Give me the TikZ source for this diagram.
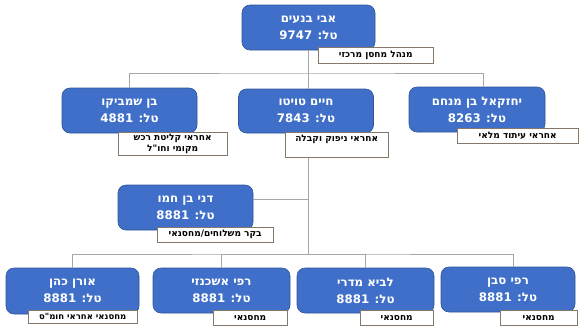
\documentclass[tikz,border=0pt]{standalone}
\usepackage{fontspec}
\setmainfont{Liberation Sans}
\newfontfamily\hebfont[Script=Hebrew]{DejaVu Sans}
\usetikzlibrary{shadows}
\TeXXeTstate=1
\definecolor{box-blue}{HTML}{3F6FC8}
\definecolor{box-edge}{HTML}{2F5597}
\definecolor{note-edge}{HTML}{857868}
\definecolor{link-gray}{HTML}{A6A6A6}
\newcommand{\rtl}[1]{\beginR #1\endR}

\tikzset{
  person/.style={draw=box-edge, fill=box-blue, rounded corners=8pt, text=white,
    align=center, font=\hebfont\fontsize{11.8}{17}\selectfont\bfseries,
    minimum width=135pt, minimum height=45pt, inner sep=0pt, line width=0.6pt},
  role/.style={draw=note-edge, fill=white, align=center, anchor=north west,
    font=\hebfont\fontsize{9}{10.5}\selectfont\bfseries, inner sep=1pt,
    drop shadow={opacity=0.25, shadow xshift=1.2pt, shadow yshift=-1.2pt}},
  link/.style={draw=link-gray, line width=0.8pt}
}

\begin{document}
\begin{tikzpicture}[x=1pt, y=-1pt]
    \useasboundingbox (0,0) rectangle (580,330);
    % people
    \node[person, minimum width=133pt] (avi) at (308.5,27.5) {\rtl{אבי בנעים}\\\rtl{טל: 9747}};
    \node[person] (shm) at (129.5,110.5) {\rtl{בן שמביקו}\\\rtl{טל: 4881}};
    \node[person, minimum height=44pt] (haim) at (306,111) {\rtl{חיים טויטו}\\\rtl{טל: 7843}};
    \node[person, minimum width=136pt] (yeh) at (477,109.5) {\rtl{יחזקאל בן מנחם}\\\rtl{טל: 8263}};
    \node[person] (dani) at (185.5,207.5) {\rtl{דני בן חמו}\\\rtl{טל: 8881}};
    \node[person, minimum width=133pt, minimum height=46pt] (oren) at (72.5,291) {\rtl{אורן כהן}\\\rtl{טל: 8881}};
    \node[person, minimum width=137pt] (ash) at (221.5,290.5) {\rtl{רפי אשכנזי}\\\rtl{טל: 8881}};
    \node[person, minimum width=137pt] (lavi) at (365.5,290.5) {\rtl{לביא מדרי}\\\rtl{טל: 8881}};
    \node[person, minimum width=134pt] (sab) at (508,289.5) {\rtl{רפי סבן}\\\rtl{טל: 8881}};
    % connectors
    \coordinate (bus-top) at (308.5,73);
    \coordinate (bus-low) at (308.5,254);
    \draw[link] (avi.south) -- (avi.south |- haim.north);
    \draw[link] (shm.north) |- (bus-top) -| ([xshift=6pt]yeh.north);
    \draw[link] (haim.south -| bus-low) -- (bus-low);
    \draw[link] ([yshift=8pt]dani.east) -- ([yshift=8pt]dani.east -| bus-low);
    \draw[link] (oren.north) |- (bus-low) -| ([xshift=5pt]sab.north);
    \draw[link] (ash.north) |- (bus-low);
    \draw[link] (lavi.north) |- (bus-low);
    % roles
    \node[role, minimum width=115pt, minimum height=16pt] (avi-role) at (318,47) {\rtl{מנהל מחסן מרכזי}};
    \node[role, minimum width=109pt, minimum height=23pt] (shm-role) at (118,132) {\rtl{אחראי קליטת רכש}\\\rtl{מקומי וחו"ל}};
    \node[role, minimum width=103pt, minimum height=25pt, text depth=12pt] (haim-role) at (285,132) {\rtl{אחראי ניפוק וקבלה}};
    \node[role, minimum width=121pt, minimum height=15pt] (yeh-role) at (457,128) {\rtl{אחראי עיתוד מלאי}};
    \node[role, minimum width=116pt, minimum height=15pt] (dani-role) at (157,227) {\rtl{בקר משלוחים/מחסנאי}};
    \node[role, minimum width=109pt, minimum height=13pt, font=\hebfont\fontsize{8.5}{10}\selectfont\bfseries] (oren-role) at (28,310) {\rtl{מחסנאי אחראי חומ"ס}};
    \node[role, minimum width=74pt, minimum height=15pt] (ash-role) at (213,310) {\rtl{מחסנאי}};
    \node[role, minimum width=73pt, minimum height=15pt] (lavi-role) at (360,310) {\rtl{מחסנאי}};
    \node[role, minimum width=77pt, minimum height=15pt] (sab-role) at (500,310) {\rtl{מחסנאי}};
\end{tikzpicture}
\end{document}
